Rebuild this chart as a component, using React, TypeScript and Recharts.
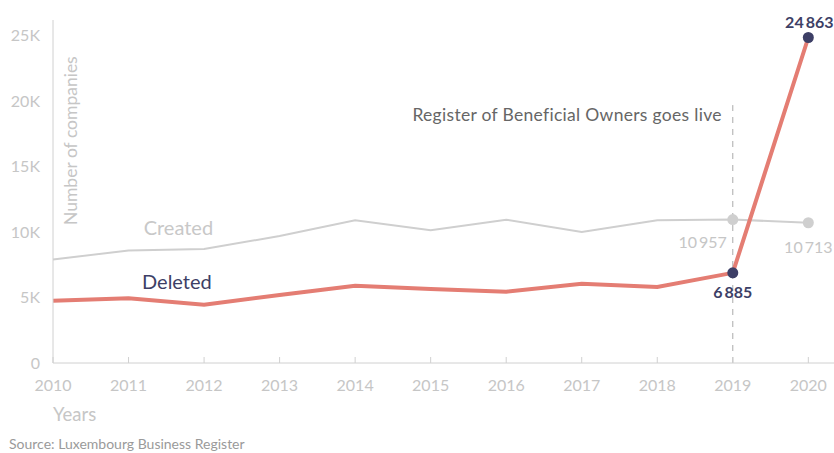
import React from 'react';
import { LineChart, Line, XAxis, YAxis, ReferenceLine, ReferenceDot } from 'recharts';

const years = [2010, 2011, 2012, 2013, 2014, 2015, 2016, 2017, 2018, 2019, 2020];
const created = [7900, 8600, 8700, 9700, 10900, 10150, 10950, 10000, 10900, 10957, 10713];
const deleted = [4750, 4950, 4450, 5200, 5900, 5650, 5450, 6050, 5800, 6885, 24863];
const yTicks = [0, 5000, 10000, 15000, 20000, 25000];

const data = years.map((year, i) => ({ year, created: created[i], deleted: deleted[i] }));

const FONT = 'Lato, "Open Sans", sans-serif';
const GREY = '#c6c6c6';
const NAVY = '#3d3f66';
const SALMON = '#e47d73';

const fmt = (v: number) => String(v).replace(/\B(?=(\d{3})+(?!\d))/g, '\u2009');

const XTick = (props: any) => {
  const { x, y, payload } = props;
  return (
    <g>
      <line x1={x} x2={x} y1={y - 6} y2={y} stroke="#d0d0d0" />
      <text x={x} y={y + 28} textAnchor="middle" fill={GREY} fontSize={16} fontFamily={FONT}>
        {payload.value}
      </text>
    </g>
  );
};

const dotAt = (color: string) => (props: any) => {
  const { cx, cy, index } = props;
  if (index < 9) return <g key={index} />;
  return <circle key={index} cx={cx} cy={cy} r={5.5} fill={color} />;
};

const createdLabel = (props: any) => {
  const { x, y, index, value } = props;
  if (index === 9)
    return (
      <text x={x - 6} y={y + 28} textAnchor="end" fill={GREY} fontSize={16} fontFamily={FONT}>
        {fmt(value)}
      </text>
    );
  if (index === 10)
    return (
      <text x={x} y={y + 30} textAnchor="middle" fill={GREY} fontSize={16} fontFamily={FONT}>
        {fmt(value)}
      </text>
    );
  return null;
};

const deletedLabel = (props: any) => {
  const { x, y, index, value } = props;
  if (index === 9)
    return (
      <text x={x} y={y + 25} textAnchor="middle" fill={NAVY} fontSize={16} fontWeight={700} fontFamily={FONT}>
        {fmt(value)}
      </text>
    );
  if (index === 10)
    return (
      <text x={x + 1} y={y - 10} textAnchor="middle" fill={NAVY} fontSize={16} fontWeight={700} fontFamily={FONT}>
        {fmt(value)}
      </text>
    );
  return null;
};

export default function App() {
  return (
    <div style={{ position: 'fixed', left: 0, top: 0, width: 834, height: 453, background: '#fff', fontFamily: FONT }}>
      <LineChart width={834} height={453} data={data} margin={{ top: 20, right: 0, bottom: 0, left: 0 }}>
        <XAxis
          dataKey="year"
          type="number"
          domain={[2010, 2020.34]}
          ticks={years}
          height={90}
          tickSize={0}
          tickMargin={0}
          stroke="#d0d0d0"
          tick={<XTick />}
          interval={0}
        />
        <YAxis
          type="number"
          domain={[0, 26200]}
          ticks={yTicks}
          width={53}
          tickSize={0}
          tickMargin={13}
          stroke="#d0d0d0"
          tick={{ fill: GREY, fontSize: 16, fontFamily: FONT }}
          tickFormatter={(v: number) => (v === 0 ? '0' : `${v / 1000}K`)}
          label={{
            content: () => (
              <text
                transform="translate(77, 225) rotate(-90)"
                textAnchor="start"
                fill={GREY}
                fontSize={17.5}
                fontFamily={FONT}
              >
                Number of companies
              </text>
            ),
          }}
        />
        <ReferenceLine
          segment={[
            { x: 2019, y: 0 },
            { x: 2019, y: 19700 },
          ]}
          stroke="#aaaaaa"
          strokeDasharray="6 6"
          label={{
            content: (p: any) => (
              <text
                x={(p.viewBox?.x ?? 733) - 11}
                y={(p.viewBox?.y ?? 105) + 16}
                textAnchor="end"
                fill="#666"
                fontSize={17.5}
                letterSpacing={0.3}
                fontFamily={FONT}
              >
                Register of Beneficial Owners goes live
              </text>
            ),
          }}
        />
        <ReferenceDot
          x={2011.66}
          y={10300}
          r={0}
          fill="none"
          stroke="none"
          label={{ value: 'Created', position: 'center', fill: '#c8c8c8', fontSize: 20, fontFamily: FONT }}
        />
        <ReferenceDot
          x={2011.64}
          y={6200}
          r={0}
          fill="none"
          stroke="none"
          label={{ value: 'Deleted', position: 'center', fill: NAVY, fontSize: 20, fontFamily: FONT }}
        />
        <Line
          dataKey="created"
          stroke="#cfcfcf"
          strokeWidth={2}
          dot={dotAt('#cfcfcf')}
          activeDot={false}
          label={createdLabel}
          isAnimationActive={false}
        />
        <Line
          dataKey="deleted"
          stroke={SALMON}
          strokeWidth={4}
          dot={dotAt(NAVY)}
          activeDot={false}
          label={deletedLabel}
          isAnimationActive={false}
        />
      </LineChart>
      <div style={{ position: 'absolute', left: 53, top: 403, color: GREY, fontSize: 18.5 }}>Years</div>
      <div style={{ position: 'absolute', left: 9, top: 435, color: '#9a9a9a', fontSize: 14 }}>
        Source: Luxembourg Business Register
      </div>
    </div>
  );
}
